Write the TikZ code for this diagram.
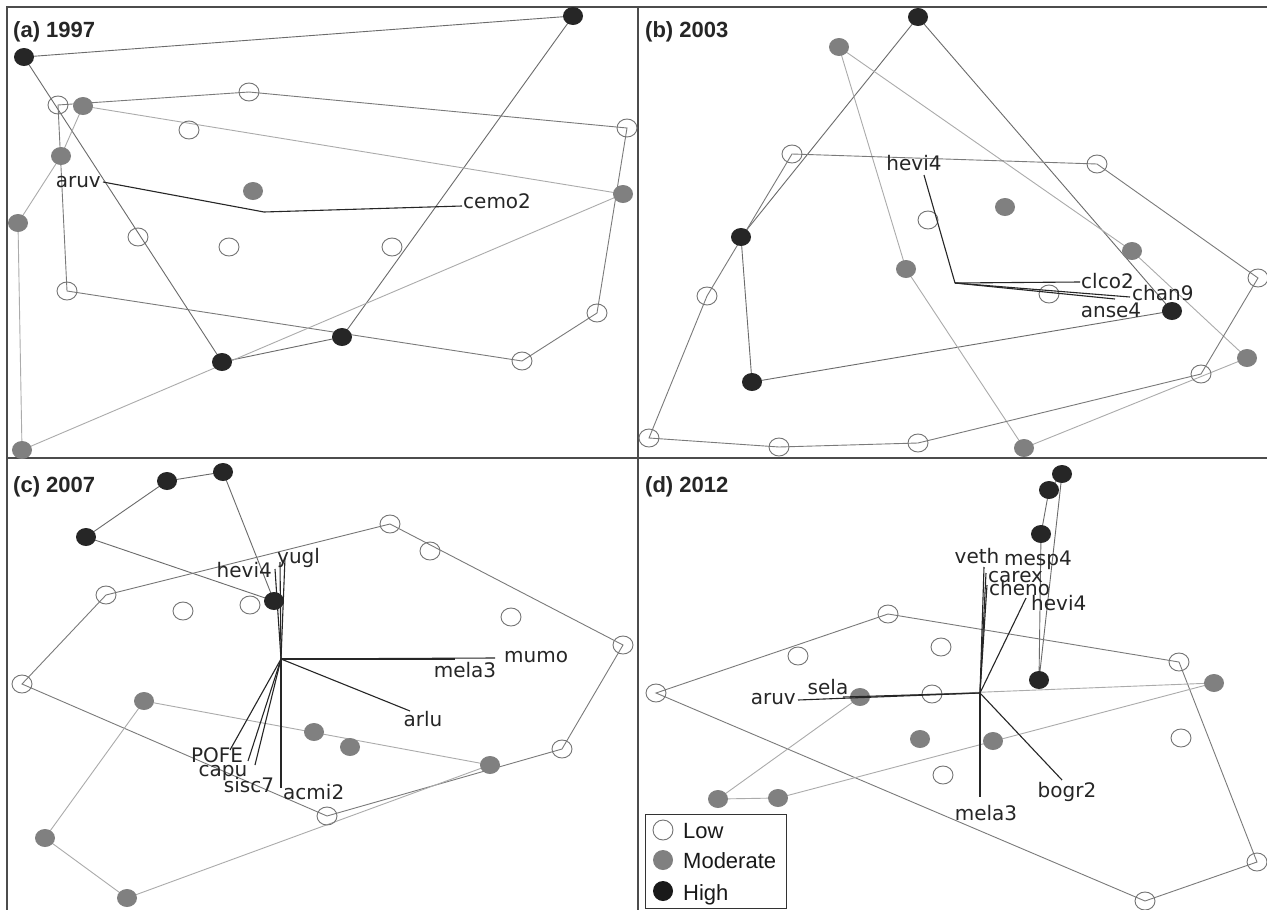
\documentclass[tikz,border=0pt]{standalone}
\usepackage{fontspec}
\setmainfont{Liberation Sans}
\newfontfamily\vf{DejaVu Sans}
\usetikzlibrary{shapes.geometric}
\pgfdeclarelayer{bg}
\pgfsetlayers{bg,main}
\begin{document}
\begin{tikzpicture}[x=1pt,y=-1pt,
  ptbase/.style={ellipse, minimum width=20pt, minimum height=18pt, inner sep=0pt},
  lowpt/.style={ptbase, draw=black!55, line width=0.9pt},
  modpt/.style={ptbase, fill=black!50},
  highpt/.style={ptbase, fill=black!85},
  hullL/.style={draw=black!52, line width=0.9pt},
  hullH/.style={draw=black!58, line width=0.9pt},
  hullM/.style={draw=black!33, line width=0.9pt},
  vec/.style={draw=black!85, line width=1.1pt},
  vlab/.style={font=\vf\fontsize{20}{20}\selectfont, inner sep=0pt, text=black!85},
  ttl/.style={font=\bfseries\fontsize{22}{22}\selectfont, inner sep=0pt, text=black!85, anchor=base west},
  frm/.style={draw=black!70, line width=2pt},
  leglab/.style={font=\fontsize{22}{22}\selectfont, inner sep=0pt, text=black!90, anchor=base west}
]
\useasboundingbox (0,0) rectangle (1267,910);
\begin{pgfonlayer}{bg}
\fill[white] (0,0) rectangle (1267,910);
\end{pgfonlayer}

% ---------- frame ----------
\coordinate (f1) at (7,7);
\coordinate (f2) at (1267,7);
\coordinate (f3) at (7,910);
\coordinate (f4) at (638,7);
\coordinate (f5) at (638,910);
\coordinate (f6) at (7,458);
\coordinate (f7) at (1267,458);
\draw[frm] (f3) -- (f1) -- (f2);
\draw[frm] (f4) -- (f5);
\draw[frm] (f6) -- (f7);

% ---------- titles ----------
\node[ttl] (ta) at (13,37) {(a) 1997};
\node[ttl] (tb) at (645,37) {(b) 2003};
\node[ttl] (tc) at (13,492) {(c) 2007};
\node[ttl] (td) at (645,492) {(d) 2012};

% ================= panel (a) =================
\node[highpt] (a1) at (24,57) {};
\node[highpt] (a2) at (573,16) {};
\node[lowpt] (a3) at (58,105) {};
\node[modpt] (a4) at (83,106) {};
\node[lowpt] (a5) at (249,92) {};
\node[lowpt] (a6) at (189,130) {};
\node[modpt] (a7) at (61,156) {};
\node[modpt] (a8) at (253,191) {};
\node[modpt] (a9) at (18,223) {};
\node[lowpt] (a10) at (138,237) {};
\node[lowpt] (a11) at (229,247) {};
\node[lowpt] (a12) at (67,291) {};
\node[highpt] (a13) at (222,362) {};
\node[modpt] (a14) at (22,450) {};
\node[lowpt] (a15) at (627,128) {};
\node[modpt] (a16) at (623,194) {};
\node[lowpt] (a17) at (392,247) {};
\node[lowpt] (a18) at (597,313) {};
\node[highpt] (a19) at (342,337) {};
\node[lowpt] (a20) at (522,361) {};
\begin{pgfonlayer}{bg}
\draw[hullH] (a1.center) -- (a2.center) -- (a19.center) -- (a13.center) -- cycle;
\draw[hullL] (a3.center) -- (a5.center) -- (a15.center) -- (a18.center) -- (a20.center) -- (a12.center) -- cycle;
\draw[hullM] (a4.center) -- (a16.center) -- (a14.center) -- (a9.center) -- (a7.center) -- cycle;
\end{pgfonlayer}
\coordinate (ao) at (264,212);
\coordinate (ae1) at (103,182);
\coordinate (ae2) at (462,206);
\draw[vec] (ao) -- (ae1);
\draw[vec] (ao) -- (ae2);
\node[vlab, anchor=base east] (al1) at (101,187) {aruv};
\node[vlab, anchor=base west] (al2) at (463,208) {cemo2};

% ================= panel (b) =================
\node[highpt] (b1) at (918,17) {};
\node[modpt] (b2) at (839,47) {};
\node[lowpt] (b3) at (792,154) {};
\node[lowpt] (b4) at (928,220) {};
\node[highpt] (b5) at (741,237) {};
\node[modpt] (b6) at (906,269) {};
\node[lowpt] (b7) at (707,296) {};
\node[highpt] (b8) at (752,382) {};
\node[lowpt] (b9) at (649,438) {};
\node[lowpt] (b10) at (779,447) {};
\node[lowpt] (b11) at (918,443) {};
\node[lowpt] (b12) at (1097,164) {};
\node[modpt] (b13) at (1005,207) {};
\node[modpt] (b14) at (1132,251) {};
\node[lowpt] (b15) at (1258,278) {};
\node[lowpt] (b16) at (1049,294) {};
\node[highpt] (b17) at (1172,311) {};
\node[modpt] (b18) at (1247,358) {};
\node[lowpt] (b19) at (1201,374) {};
\node[modpt] (b20) at (1024,448) {};
\begin{pgfonlayer}{bg}
\draw[hullH] (b1.center) -- (b17.center) -- (b8.center) -- (b5.center) -- cycle;
\draw[hullM] (b2.center) -- (b14.center) -- (b18.center) -- (b20.center) -- (b6.center) -- cycle;
\draw[hullL] (b9.center) -- (b7.center) -- (b3.center) -- (b12.center) -- (b15.center) -- (b19.center) -- (b11.center) -- (b10.center) -- cycle;
\end{pgfonlayer}
\coordinate (bo) at (955,283);
\coordinate (be1) at (924,175);
\coordinate (be2) at (1080,282);
\coordinate (be3) at (1130,297);
\coordinate (be4) at (1115,299);
\draw[vec] (bo) -- (be1);
\draw[vec] (bo) -- (be2);
\draw[vec] (bo) -- (be3);
\draw[vec] (bo) -- (be4);
\node[vlab, anchor=base] (bl1) at (914,170) {hevi4};
\node[vlab, anchor=base west] (bl2) at (1081,288) {clco2};
\node[vlab, anchor=base west] (bl3) at (1132,300) {chan9};
\node[vlab, anchor=base] (bl4) at (1111,317) {anse4};

% ================= panel (c) =================
\node[highpt] (c1) at (223,472) {};
\node[highpt] (c2) at (167,481) {};
\node[highpt] (c3) at (86,537) {};
\node[lowpt] (c4) at (106,595) {};
\node[lowpt] (c5) at (183,611) {};
\node[lowpt] (c6) at (250,605) {};
\node[highpt] (c7) at (274,601) {};
\node[lowpt] (c8) at (22,684) {};
\node[modpt] (c9) at (144,701) {};
\node[modpt] (c10) at (314,732) {};
\node[modpt] (c11) at (350,747) {};
\node[modpt] (c12) at (490,765) {};
\node[lowpt] (c13) at (562,749) {};
\node[lowpt] (c14) at (327,816) {};
\node[modpt] (c15) at (45,838) {};
\node[modpt] (c16) at (127,898) {};
\node[lowpt] (c17) at (390,524) {};
\node[lowpt] (c18) at (430,551) {};
\node[lowpt] (c19) at (511,617) {};
\node[lowpt] (c20) at (623,645) {};
\begin{pgfonlayer}{bg}
\draw[hullH] (c1.center) -- (c2.center) -- (c3.center) -- (c7.center) -- cycle;
\draw[hullL] (c17.center) -- (c20.center) -- (c13.center) -- (c14.center) -- (c8.center) -- (c4.center) -- cycle;
\draw[hullM] (c9.center) -- (c12.center) -- (c16.center) -- (c15.center) -- cycle;
\end{pgfonlayer}
\coordinate (co) at (281,659);
\coordinate (ce1) at (275,569);
\coordinate (ce2) at (280,562);
\coordinate (ce3) at (285,558);
\coordinate (ce4) at (495,658);
\coordinate (ce5) at (455,659);
\coordinate (ce6) at (410,711);
\coordinate (ce7) at (281,788);
\coordinate (ce8) at (255,765);
\coordinate (ce9) at (248,761);
\coordinate (ce10) at (230,750);
\draw[vec] (co) -- (ce1);
\draw[vec] (co) -- (ce2);
\draw[vec] (co) -- (ce3);
\draw[vec] (co) -- (ce4);
\draw[vec] (co) -- (ce5);
\draw[vec] (co) -- (ce6);
\draw[vec] (co) -- (ce7);
\draw[vec] (co) -- (ce8);
\draw[vec] (co) -- (ce9);
\draw[vec] (co) -- (ce10);
\node[vlab, anchor=base east] (cl1) at (272,577) {hevi4};
\node[vlab, anchor=base west] (cl2) at (277,563) {yugl};
\node[vlab, anchor=base west] (cl3) at (504,662) {mumo};
\node[vlab, anchor=base] (cl4) at (465,677) {mela3};
\node[vlab, anchor=base] (cl5) at (423,726) {arlu};
\node[vlab, anchor=base west] (cl6) at (283,799) {acmi2};
\node[vlab, anchor=base] (cl7) at (249,792) {sisc7};
\node[vlab, anchor=base] (cl8) at (223,776) {capu};
\node[vlab, anchor=base] (cl9) at (217,762) {POFE};

% ================= panel (d) =================
\node[highpt] (d1) at (1062,474) {};
\node[highpt] (d2) at (1049,490) {};
\node[highpt] (d3) at (1041,534) {};
\node[highpt] (d4) at (1039,680) {};
\node[lowpt] (d5) at (888,614) {};
\node[lowpt] (d6) at (798,656) {};
\node[lowpt] (d7) at (941,647) {};
\node[lowpt] (d8) at (656,693) {};
\node[modpt] (d9) at (860,697) {};
\node[lowpt] (d10) at (932,694) {};
\node[modpt] (d11) at (920,739) {};
\node[lowpt] (d12) at (943,775) {};
\node[modpt] (d13) at (718,799) {};
\node[modpt] (d14) at (778,798) {};
\node[lowpt] (d15) at (1179,662) {};
\node[modpt] (d16) at (1214,683) {};
\node[lowpt] (d17) at (1181,738) {};
\node[modpt] (d18) at (993,741) {};
\node[lowpt] (d19) at (1257,862) {};
\node[lowpt] (d20) at (1145,901) {};
\begin{pgfonlayer}{bg}
\draw[hullH] (d1.center) -- (d4.center) -- (d3.center) -- (d2.center) -- cycle;
\draw[hullL] (d8.center) -- (d5.center) -- (d15.center) -- (d19.center) -- (d20.center) -- cycle;
\draw[hullM] (d9.center) -- (d16.center) -- (d14.center) -- (d13.center) -- cycle;
\end{pgfonlayer}
\coordinate (dor) at (980,693);
\coordinate (de1) at (798,700);
\coordinate (de2) at (843,697);
\coordinate (de3) at (984,567);
\coordinate (de4) at (986,573);
\coordinate (de5) at (987,585);
\coordinate (de6) at (1026,598);
\coordinate (de7) at (1062,780);
\coordinate (de8) at (980,797);
\draw[vec] (dor) -- (de1);
\draw[vec] (dor) -- (de2);
\draw[vec] (dor) -- (de3);
\draw[vec] (dor) -- (de4);
\draw[vec] (dor) -- (de5);
\draw[vec] (dor) -- (de6);
\draw[vec] (dor) -- (de7);
\draw[vec] (dor) -- (de8);
\node[vlab, anchor=base east] (dl1) at (796,704) {aruv};
\node[vlab, anchor=base] (dl2) at (828,694) {sela};
\node[vlab, anchor=base] (dl3) at (977,563) {veth};
\node[vlab, anchor=base west] (dl4) at (1004,565) {mesp4};
\node[vlab, anchor=base west] (dl5) at (988,582) {carex};
\node[vlab, anchor=base west] (dl6) at (989,595) {cheno};
\node[vlab, anchor=base west] (dl7) at (1031,610) {hevi4};
\node[vlab, anchor=base] (dl8) at (1067,797) {bogr2};
\node[vlab, anchor=base] (dl9) at (986,820) {mela3};

% ---------- legend ----------
\node[draw=black!80, line width=1.3pt, minimum width=141pt, minimum height=94pt, inner sep=0pt, anchor=north west, fill=white] (leg) at (645,814) {};
\node[lowpt, minimum height=20pt] (lg1) at (663,830) {};
\node[modpt, minimum height=20pt] (lg2) at (663,860) {};
\node[highpt, fill=black!90, minimum height=20pt] (lg3) at (663,891) {};
\node[leglab] (lt1) at (683,838) {Low};
\node[leglab] (lt2) at (683,868) {Moderate};
\node[leglab] (lt3) at (683,900) {High};
\end{tikzpicture}
\end{document}
